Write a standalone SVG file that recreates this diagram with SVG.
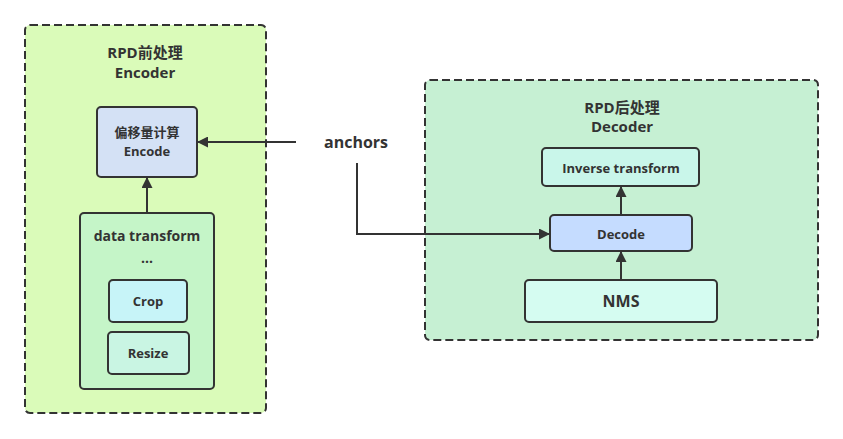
<svg xmlns="http://www.w3.org/2000/svg" width="843" height="439" viewBox="0 0 843 439">
<defs>
<marker id="ah" viewBox="0 0 10 10" refX="10" refY="5" markerWidth="11" markerHeight="11" markerUnits="userSpaceOnUse" orient="auto">
<path d="M0,0 L10,5 L0,10 Z" fill="#333"/>
</marker>
<style>
.cont{stroke:#333;stroke-width:2;stroke-dasharray:8 4}
.box{stroke:#333;stroke-width:2}
text{font-family:"Open Sans","Noto Sans","Noto Sans CJK SC",sans-serif;font-weight:bold;fill:#333;text-anchor:middle;dominant-baseline:central}
.t15{font-size:15px}
.t14{font-size:14px}
.t13{font-size:13px}
.t12{font-size:12px}
.t16{font-size:16px}
.conn{stroke:#333;stroke-width:2;fill:none}
</style>
</defs>
<rect width="843" height="439" fill="#fff"/>
<g id="encoder">
<rect class="cont" x="25" y="25" width="241" height="388" rx="5" fill="#dafbb9"/>
<text class="t15" x="145" y="52">RPD前处理</text>
<text class="t15" x="145" y="72">Encoder</text>
</g>
<g id="decoder">
<rect class="cont" x="425" y="80" width="393" height="260" rx="5" fill="#c6f0d3"/>
<text class="t15" x="622" y="107">RPD后处理</text>
<text class="t15" x="622" y="126">Decoder</text>
</g>
<g id="encode">
<rect class="box" x="97" y="107" width="100" height="70" rx="4" fill="#d4e1f5"/>
<text class="t13" x="147" y="132">偏移量计算</text>
<text class="t13" x="147" y="151">Encode</text>
</g>
<g id="data-transform">
<rect class="box" x="80" y="213" width="134" height="176" rx="4" fill="#c5f5c8"/>
<text class="t14" x="147" y="235">data transform</text>
<text class="t14" x="147" y="257">...</text>
</g>
<g id="crop">
<rect class="box" x="109" y="280" width="78" height="42" rx="4" fill="#c7f4f8"/>
<text class="t13" x="148" y="301">Crop</text>
</g>
<g id="resize">
<rect class="box" x="108" y="332" width="81" height="42" rx="4" fill="#c9f5e3"/>
<text class="t13" x="148" y="353">Resize</text>
</g>
<g id="inverse">
<rect class="box" x="542" y="148" width="157" height="38" rx="4" fill="#c9f6ea"/>
<text class="t13" x="621" y="168">Inverse transform</text>
</g>
<g id="decode">
<rect class="box" x="550" y="215" width="142" height="36" rx="4" fill="#c5dcff"/>
<text class="t13" x="621" y="234">Decode</text>
</g>
<g id="nms">
<rect class="box" x="525" y="280" width="192" height="42" rx="4" fill="#d5fcf1"/>
<text class="t16" x="621" y="301">NMS</text>
</g>
<g id="anchors">
<text class="t16" x="356" y="142">anchors</text>
</g>
<g id="connectors">
<path class="conn" d="M147,213 L147,177" marker-end="url(#ah)"/>
<path class="conn" d="M296,142 L197,142" marker-end="url(#ah)"/>
<path class="conn" d="M357,163 L357,234 L550,234" marker-end="url(#ah)"/>
<path class="conn" d="M621,215 L621,186" marker-end="url(#ah)"/>
<path class="conn" d="M621,280 L621,251" marker-end="url(#ah)"/>
</g>
</svg>
